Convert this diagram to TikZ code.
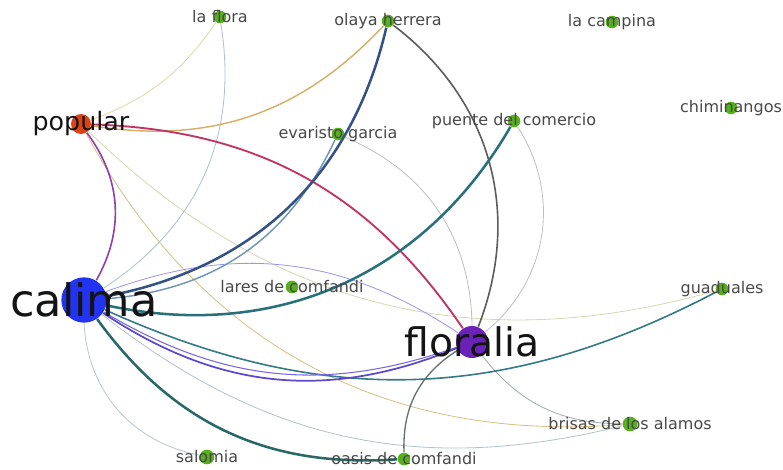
\documentclass[tikz,border=0pt]{standalone}
\usepackage{fontspec}
\setmainfont{DejaVu Sans}

\tikzset{every picture/.style={line width=0.75pt}}
\tikzset{
  barrio/.style={circle, inner sep=0pt, minimum size=9.5pt, fill={rgb, 255:red, 86; green, 176; blue, 28 }},
  hub/.style={circle, inner sep=0pt},
  lbl/.style={inner sep=0pt, text={rgb, 255:red, 72; green, 72; blue, 72 }, font=\fontsize{12}{14}\selectfont},
  biglbl/.style={inner sep=0pt, text={rgb, 255:red, 20; green, 20; blue, 20 }},
  link/.style={line width=0.6pt},
  thick link/.style={line width=1.9pt},
}

\begin{document}
\begin{tikzpicture}[x=0.75pt,y=0.75pt,yscale=-1,xscale=1]
\useasboundingbox (0,0) rectangle (783,469);

% Nodes
\node [barrio] (laflora) at (220,17) {};
\node [barrio] (olaya) at (388,21) {};
\node [barrio] (campina) at (612,22) {};
\node [barrio] (chimi) at (731,108) {};
\node [hub, minimum size=15pt, fill={rgb, 255:red, 222; green, 66; blue, 22 }] (popular) at (81,124) {};
\node [barrio] (evaristo) at (338,134) {};
\node [barrio] (puente) at (514,121) {};
\node [hub, minimum size=34pt, fill={rgb, 255:red, 34; green, 52; blue, 240 }] (calima) at (84,300) {};
\node [barrio] (lares) at (292,287) {};
\node [hub, minimum size=24pt, fill={rgb, 255:red, 106; green, 34; blue, 184 }] (floralia) at (472,342) {};
\node [barrio] (guaduales) at (722,289) {};
\node [barrio, minimum size=11pt] (brisas) at (630,424) {};
\node [barrio, minimum size=11pt] (salomia) at (207,457) {};
\node [barrio] (oasis) at (404,459) {};

%Curved Lines, light ones first (yscale=-1 flips bend sides)
\draw [link, color={rgb, 255:red, 222; green, 214; blue, 160 }] (popular) to [bend left=17] (laflora);
\draw [link, color={rgb, 255:red, 214; green, 214; blue, 178 }] (popular) to [bend left=30] (guaduales);
\draw [link, color={rgb, 255:red, 214; green, 190; blue, 128 }] (popular) to [bend left=33] (brisas);
\draw [link, color={rgb, 255:red, 170; green, 192; blue, 208 }] (laflora) to [bend right=33] (calima);
\draw [link, color={rgb, 255:red, 184; green, 196; blue, 204 }] (calima) to [bend left=38] (salomia);
\draw [link, color={rgb, 255:red, 178; green, 192; blue, 200 }] (calima) to [bend left=26] (brisas);
\draw [link, color={rgb, 255:red, 190; green, 190; blue, 190 }] (evaristo) to [bend right=33] (floralia);
\draw [link, color={rgb, 255:red, 190; green, 190; blue, 190 }] (puente) to [bend right=42] (floralia);
\draw [link, color={rgb, 255:red, 158; green, 170; blue, 172 }] (floralia) to [bend left=26] (brisas);
\draw [link, color={rgb, 255:red, 156; green, 146; blue, 232 }] (calima) to [bend right=27] (floralia);

%Curved Lines, darker ones
\draw [line width=1.1pt, color={rgb, 255:red, 214; green, 176; blue, 104 }] (popular) to [bend left=28] (olaya);
\draw [line width=1.2pt, color={rgb, 255:red, 144; green, 62; blue, 172 }] (popular) to [bend right=33] (calima);
\draw [line width=1.4pt, color={rgb, 255:red, 192; green, 52; blue, 102 }] (popular) to [bend right=27] (floralia);
\draw [line width=1.1pt, color={rgb, 255:red, 112; green, 150; blue, 182 }] (evaristo) to [bend right=30] (calima);
\draw [thick link, color={rgb, 255:red, 52; green, 82; blue, 132 }] (olaya) to [bend right=33] (calima);
\draw [line width=1.2pt, color={rgb, 255:red, 92; green, 92; blue, 92 }] (olaya) to [bend right=37] (floralia);
\draw [thick link, color={rgb, 255:red, 40; green, 112; blue, 122 }] (puente) to [bend right=36] (calima);
\draw [line width=1.2pt, color={rgb, 255:red, 52; green, 122; blue, 132 }] (calima) to [bend left=26] (guaduales);
\draw [line width=0.8pt, color={rgb, 255:red, 120; green, 104; blue, 224 }] (calima) to [bend left=25] (floralia);
\draw [line width=1.3pt, color={rgb, 255:red, 92; green, 72; blue, 200 }] (calima) to [bend left=28] (floralia);
\draw [thick link, color={rgb, 255:red, 40; green, 104; blue, 104 }] (calima) to [bend left=29] (oasis);
\draw [line width=1pt, color={rgb, 255:red, 100; green, 112; blue, 112 }] (floralia) to [bend left=30] (oasis);

% Text Node
\node [lbl] (laflora-t) at (laflora) {la flora};
\node [lbl] (olaya-t) at (olaya) {olaya herrera};
\node [lbl] (campina-t) at (campina) {la campina};
\node [lbl] (chimi-t) at (chimi) {chiminangos};
\node [lbl] (evaristo-t) at (evaristo) {evaristo garcia};
\node [lbl] (puente-t) at (puente) {puente del comercio};
\node [lbl] (lares-t) at (lares) {lares de comfandi};
\node [lbl] (guaduales-t) at (guaduales) {guaduales};
\node [lbl] (brisas-t) at (brisas) {brisas de los alamos};
\node [lbl] (salomia-t) at (salomia) {salomia};
\node [lbl] (oasis-t) at (oasis) {oasis de comfandi};
% Text Node
\node [biglbl, font=\fontsize{19}{22}\selectfont] (popular-t) at (popular) {popular};
\node [biglbl, font=\fontsize{33.5}{38}\selectfont] (calima-t) at (calima) {calima};
\node [biglbl, font=\fontsize{29.5}{34}\selectfont] (floralia-t) at (floralia) {floralia};

\end{tikzpicture}
\end{document}
